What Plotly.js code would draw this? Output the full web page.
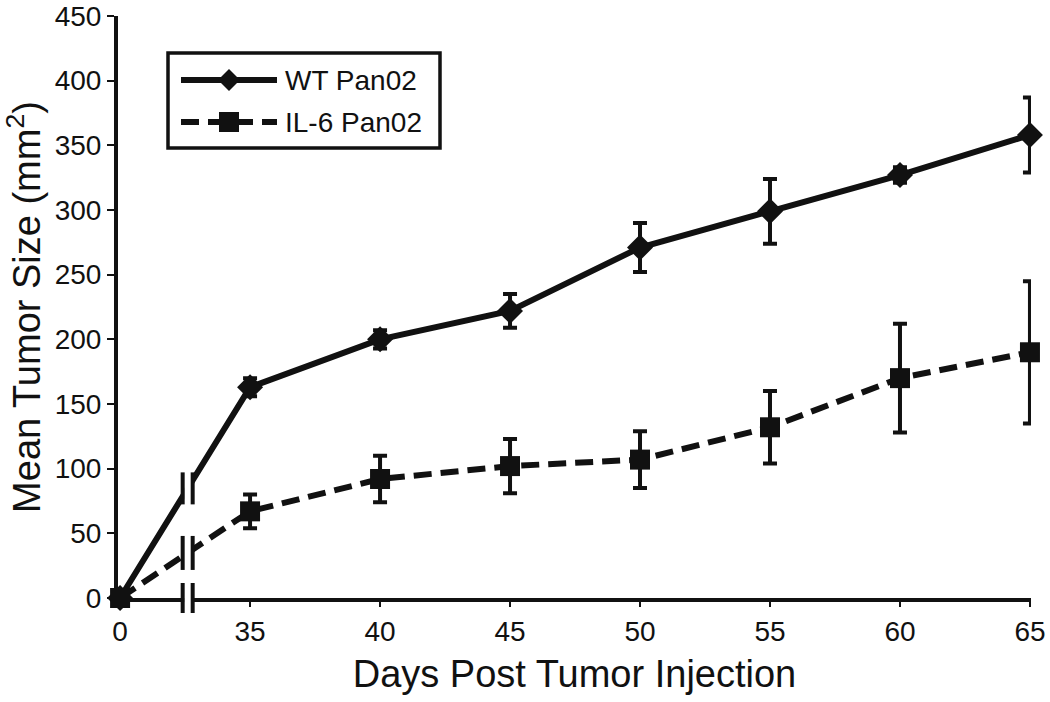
<!DOCTYPE html>
<html><head><meta charset="utf-8">
<script src="https://cdn.plot.ly/plotly-3.0.1.min.js"></script>
<style>body{margin:0;background:#fff}</style>
</head><body><div id="chart" style="width:1050px;height:702px"></div>
<script>
// ---- data ----
const days = [0, 35, 40, 45, 50, 55, 60, 65];
const dayLabels = ['0', '35', '40', '45', '50', '55', '60', '65'];
const wtMean = [0, 163, 200, 222, 271, 299, 327, 358];
const wtErr  = [0, 7, 7, 13, 19, 25, 6, 29];
const il6Mean = [0, 67, 92, 102, 107, 132, 170, 190];
const il6Err  = [0, 13, 18, 21, 22, 28, 42, 55];
const seriesNames = ['WT Pan02', 'IL-6 Pan02'];

// ---- broken x axis: day 0 sits one 5-day step before day 35 ----
function axisPos(d) { return d === 0 ? 30 : d; }
const xs = days.map(axisPos);

const W = 1050, H = 702;
const M = {l: 118, r: 19, t: 16, b: 104};
const plotW = W - M.l - M.r, plotH = H - M.t - M.b;
const xRange = [29.92, 65.04];
const yRange = [0, 450];
const breakPos = 32.6;

const FONT = 'Liberation Sans, Arial, Helvetica, sans-serif';

function xp(pos) { return (pos - xRange[0]) / (xRange[1] - xRange[0]); }
function yp(v) { return (v - yRange[0]) / (yRange[1] - yRange[0]); }
// pixel (page) -> paper
function pxX(px) { return (px - M.l) / plotW; }
function pxY(py) { return (H - M.b - py) / plotH; }
const dX = 1 / plotW, dY = 1 / plotH;

function interp(arr) {
  return arr[0] + (arr[1] - arr[0]) * (breakPos - xs[0]) / (xs[1] - xs[0]);
}

const traces = [
  {
    x: xs, y: wtMean, name: seriesNames[0], type: 'scatter', mode: 'lines+markers',
    line: {color: '#111', width: 6},
    marker: {symbol: 'diamond', size: 20, color: '#111'},
    error_y: {type: 'data', array: wtErr, visible: true, color: '#111', thickness: 4, width: 7},
    cliponaxis: false, showlegend: false
  },
  {
    x: xs, y: il6Mean, name: seriesNames[1], type: 'scatter', mode: 'lines+markers',
    line: {color: '#111', width: 6, dash: '18px,9px'},
    marker: {symbol: 'square', size: 20, color: '#111'},
    error_y: {type: 'data', array: il6Err, visible: true, color: '#111', thickness: 4, width: 7},
    cliponaxis: false, showlegend: false
  }
];

// ---- axis-break marks ----
const shapes = [];
function breakMark(cyPaper, halfH) {
  const bx = xp(breakPos);
  shapes.push({type: 'rect', xref: 'paper', yref: 'paper',
    x0: bx - 3.5 * dX, x1: bx + 3.5 * dX, y0: cyPaper - (halfH - 2) * dY, y1: cyPaper + (halfH - 2) * dY,
    fillcolor: '#fff', line: {width: 0}, layer: 'above'});
  [-5, 5].forEach(function (o) {
    shapes.push({type: 'line', xref: 'paper', yref: 'paper',
      x0: bx + o * dX, x1: bx + o * dX, y0: cyPaper - halfH * dY, y1: cyPaper + halfH * dY,
      line: {color: '#111', width: 4}, layer: 'above'});
  });
}
breakMark(0, 15);
breakMark(yp(interp(wtMean)), 16);
breakMark(yp(interp(il6Mean)), 17);

// ---- legend (drawn) ----
shapes.push({type: 'rect', xref: 'paper', yref: 'paper',
  x0: pxX(168), x1: pxX(440), y0: pxY(148), y1: pxY(53),
  line: {color: '#111', width: 3.5}, fillcolor: 'rgba(255,255,255,0)', layer: 'above'});
const legRows = [80, 122];
shapes.push({type: 'line', xref: 'paper', yref: 'paper',
  x0: pxX(181), x1: pxX(277), y0: pxY(legRows[0]), y1: pxY(legRows[0]),
  line: {color: '#111', width: 6}, layer: 'above'});
shapes.push({type: 'path', xref: 'paper', yref: 'paper',
  path: 'M' + pxX(229) + ',' + pxY(legRows[0] - 11) + ' L' + pxX(240) + ',' + pxY(legRows[0]) +
        ' L' + pxX(229) + ',' + pxY(legRows[0] + 11) + ' L' + pxX(218) + ',' + pxY(legRows[0]) + ' Z',
  fillcolor: '#111', line: {width: 0}, layer: 'above'});
shapes.push({type: 'line', xref: 'paper', yref: 'paper',
  x0: pxX(181), x1: pxX(277), y0: pxY(legRows[1]), y1: pxY(legRows[1]),
  line: {color: '#111', width: 6, dash: '18px,9px'}, layer: 'above'});
shapes.push({type: 'rect', xref: 'paper', yref: 'paper',
  x0: pxX(219), x1: pxX(239), y0: pxY(legRows[1] + 10), y1: pxY(legRows[1] - 10),
  fillcolor: '#111', line: {width: 0}, layer: 'above'});

const annotations = seriesNames.map(function (n, i) {
  return {xref: 'paper', yref: 'paper', x: pxX(283), y: pxY(legRows[i]),
    xanchor: 'left', yanchor: 'middle', text: n, showarrow: false,
    font: {family: FONT, size: 28, color: '#111'}};
});

const layout = {
  width: W, height: H,
  margin: M,
  paper_bgcolor: '#fff', plot_bgcolor: '#fff',
  font: {family: FONT, color: '#111'},
  showlegend: false,
  xaxis: {
    range: xRange, tickmode: 'array', tickvals: xs, ticktext: dayLabels,
    showline: true, linecolor: '#111', linewidth: 4, mirror: false,
    ticks: 'outside', ticklen: 5, tickwidth: 2, tickcolor: '#111',
    ticklabeloverflow: 'allow',
    showgrid: false, zeroline: false,
    tickfont: {family: FONT, size: 28, color: '#111'},
    title: {text: 'Days Post Tumor Injection', font: {family: FONT, size: 38, color: '#111'}, standoff: 16}
  },
  yaxis: {
    range: yRange, dtick: 50, tick0: 0,
    showline: true, linecolor: '#111', linewidth: 4,
    ticks: 'outside', ticklen: 7, tickwidth: 2, tickcolor: '#111',
    ticklabeloverflow: 'allow',
    showgrid: false, zeroline: false,
    tickfont: {family: FONT, size: 28, color: '#111'},
    title: {text: 'Mean Tumor Size (mm<sup>2</sup>)', font: {family: FONT, size: 38, color: '#111'}, standoff: 10}
  },
  shapes: shapes,
  annotations: annotations
};

Plotly.newPlot('chart', traces, layout, {displayModeBar: false, staticPlot: true});
</script>
</body></html>
